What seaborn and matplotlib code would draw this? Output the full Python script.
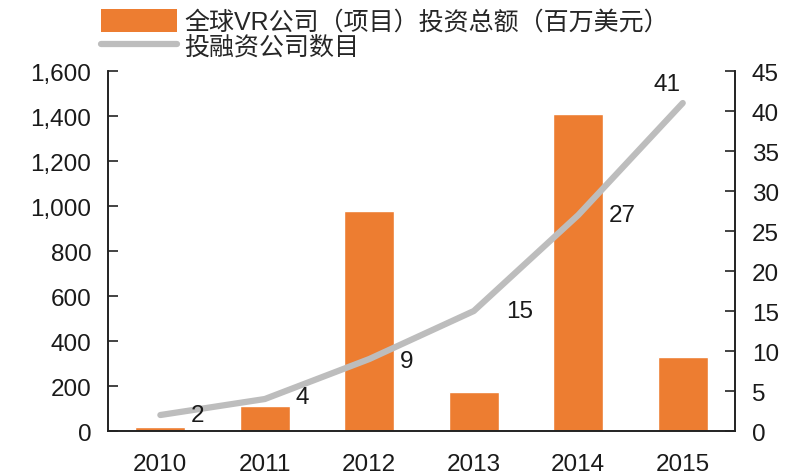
import matplotlib
matplotlib.use("Agg")
import matplotlib.pyplot as plt
import seaborn as sns
import numpy as np
import pandas as pd
from matplotlib.lines import Line2D
from matplotlib.patches import Patch

years = ["2010", "2011", "2012", "2013", "2014", "2015"]
investment = [20, 112, 978, 175, 1410, 328]
companies = [2, 4, 9, 15, 27, 41]
left_ticks = [0, 200, 400, 600, 800, 1000, 1200, 1400, 1600]
right_ticks = [0, 5, 10, 15, 20, 25, 30, 35, 40, 45]
bar_label = "全球VR公司（项目）投资总额（百万美元）"
line_label = "投融资公司数目"

sns.set_style("white")
plt.rcParams["font.family"] = ["Liberation Sans", "Noto Sans CJK SC", "DejaVu Sans"]
txt = "#1a1a1a"
fs = 17.5

fig = plt.figure(figsize=(7.95, 4.77), dpi=100)
ax = fig.add_axes([0.136, 0.0943, 0.7885, 0.7547])
ax2 = ax.twinx()

df = pd.DataFrame({"year": years, "inv": investment, "n": companies, "pos": np.arange(len(years))})
orange = "#ED7D31"
gray = "#BDBDBD"
sns.barplot(data=df, x="year", y="inv", ax=ax, color=orange, width=0.48, saturation=1)
sns.lineplot(data=df, x="pos", y="n", ax=ax2, color=gray, linewidth=4.5, zorder=3,
             solid_capstyle="round")

ax.set_xlim(-0.5, 5.5)
ax.set_ylim(0, 1600)
ax2.set_ylim(0, 45)
ax.set_yticks(left_ticks)
ax.set_yticklabels([f"{v:,}" for v in left_ticks])
ax2.set_yticks(right_ticks)
ax.set_xlabel("")
ax.set_ylabel("")
ax2.set_ylabel("")
ax2.set_xlabel("")

for a in (ax, ax2):
    a.spines["top"].set_visible(False)
    for s in ("left", "right", "bottom"):
        a.spines[s].set_color("#222222")
        a.spines[s].set_linewidth(1.2)

ax.tick_params(axis="y", direction="in", length=7, width=1.2, labelsize=fs, colors="#222222", labelcolor=txt, pad=12)
ax2.tick_params(axis="y", direction="in", length=7, width=1.2, labelsize=fs, colors="#222222", labelcolor=txt, pad=12)
ax.set_xticks(range(len(years)))
ax.set_xticklabels(years)
ax.tick_params(axis="x", which="major", length=0, labelsize=fs, labelcolor=txt, pad=16)
ax.set_xticks(np.arange(0.5, 5.5, 1), minor=True)
ax.tick_params(axis="x", which="minor", direction="in", length=6, width=1.2, colors="#222222")

offsets = [(0.36, 0), (0.36, 0.3), (0.36, -0.3), (0.44, 0), (0.42, 0), (-0.15, 2.4)]
for i, (v, (dx, dy)) in enumerate(zip(companies, offsets)):
    ax2.text(i + dx, v + dy, str(v), fontsize=fs, color=txt, ha="center", va="center")

handles = [Patch(facecolor=orange, edgecolor="none"),
           Line2D([0], [0], color=gray, linewidth=4.5)]
fig.legend(handles, [bar_label, line_label], loc="upper left", bbox_to_anchor=(0.108, 1.01),
           frameon=False, fontsize=18, handlelength=3.05, handleheight=1.0, handletextpad=0.3,
           labelspacing=0.0, borderaxespad=0.2)

fig.savefig("out.png", dpi=100)
